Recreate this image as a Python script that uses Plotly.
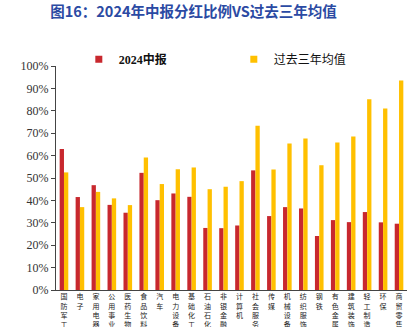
import plotly.graph_objects as go

categories = ["国防军工", "电子", "家用电器", "公用事业", "医药生物", "食品饮料", "汽车",
              "电力设备", "基础化工", "石油石化", "非银金融", "计算机", "社会服务", "传媒",
              "机械设备", "纺织服饰", "钢铁", "有色金属", "建筑装饰", "轻工制造", "环保", "商贸零售"]
interim_2024 = [62.9, 41.5, 46.8, 38.0, 34.5, 52.3, 40.1, 43.1, 41.6, 27.7, 27.6, 28.8,
                53.4, 33.0, 37.0, 36.4, 24.1, 31.2, 30.3, 34.8, 30.2, 29.6]
avg_3y = [52.5, 37.0, 43.8, 40.9, 37.9, 59.2, 47.3, 53.9, 54.7, 45.0, 46.1, 48.6,
          73.3, 53.8, 65.4, 67.6, 55.7, 65.8, 68.5, 85.2, 81.0, 93.5]
series_names = ["<b>2024中报</b>", "过去三年均值"]
colors = ["#C8282E", "#FFC000"]
yticks = [0, 10, 20, 30, 40, 50, 60, 70, 80, 90, 100]

xlabels = ["<br>".join(list(c)) for c in categories]

fig = go.Figure()
for name, vals, col in zip(series_names, [interim_2024, avg_3y], colors):
    fig.add_trace(go.Bar(x=xlabels, y=[v / 100 for v in vals], name=name,
                         marker=dict(color=col, line=dict(width=0)), showlegend=False))
    fig.add_trace(go.Scatter(x=[None], y=[None], mode="markers", name=name,
                             marker=dict(symbol="square", size=7, color=col)))

fig.update_layout(
    width=410, height=327,
    margin=dict(l=56, r=3, t=66, b=37, autoexpand=False),
    paper_bgcolor="white", plot_bgcolor="white",
    barmode="group", bargap=0.46, bargroupgap=0,
    title=dict(text="<b>图16：2024年中报分红比例VS过去三年均值</b>",
               x=0.472, xref="container", xanchor="center",
               y=1 - 12 / 327, yref="container", yanchor="middle",
               font=dict(family="Noto Sans CJK SC", size=14.5, color="#2B4AA3")),
    legend=dict(orientation="h", x=0.065, xanchor="left", y=1.03, yanchor="middle",
                entrywidth=110, entrywidthmode="pixels",
                font=dict(family="Liberation Serif, Noto Sans CJK SC", size=12, color="#111"),
                bgcolor="rgba(0,0,0,0)", itemclick=False),
    xaxis=dict(showline=True, linecolor="#444", linewidth=1, ticks="", showgrid=False,
               automargin=False,
               tickangle=0, tickfont=dict(family="Noto Sans CJK SC", size=7, color="#222"),
               range=[-0.5, len(categories) - 0.5]),
    yaxis=dict(range=[0, 1], tickvals=[t / 100 for t in yticks],
               ticktext=[f"{t}%" for t in yticks], automargin=False,
               showline=True, linecolor="#444", linewidth=1, ticks="outside", ticklen=4,
               tickcolor="#444", showgrid=False, zeroline=False,
               tickfont=dict(family="Liberation Serif", size=12, color="#333")),
)

fig.write_html("out.html")
